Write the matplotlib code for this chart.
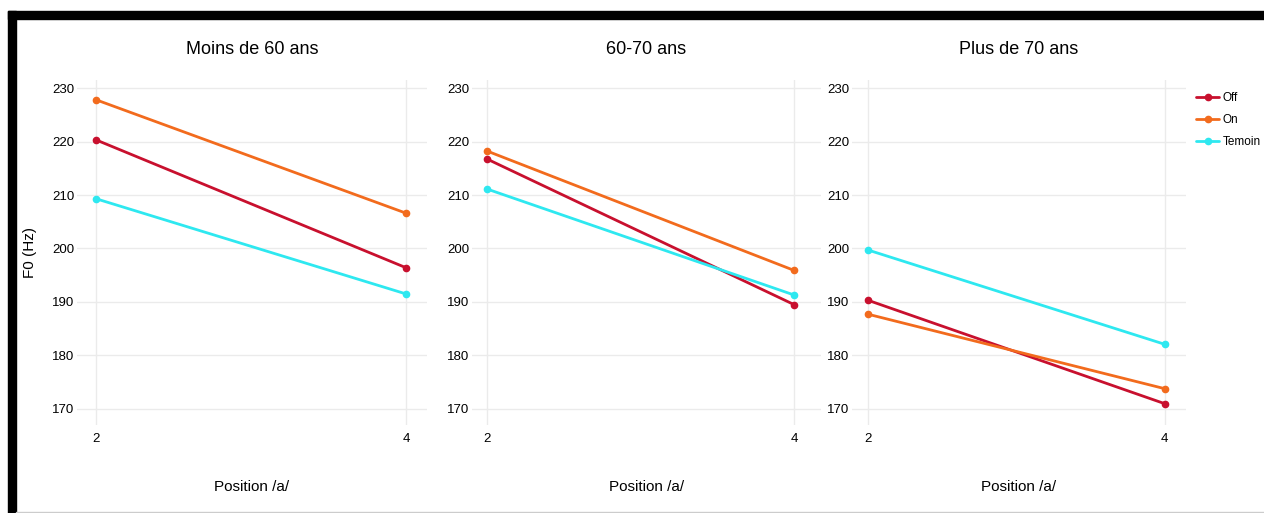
import numpy as np
import matplotlib as mpl
mpl.use('Agg')
import matplotlib.pyplot as plt
from matplotlib.patches import Rectangle

plt.rcParams['font.family'] = ['Liberation Sans', 'DejaVu Sans']

# données
positions = [2, 4]
groupes = ['Moins de 60 ans', '60-70 ans', 'Plus de 70 ans']
series = ['Off', 'On', 'Temoin']
couleurs = ['#c8102e', '#f26b1d', '#2ee8f0']
off_vals = [[220.3, 196.4], [216.7, 189.5], [190.3, 171.0]]
on_vals = [[227.8, 206.6], [218.2, 195.9], [187.7, 173.8]]
temoin_vals = [[209.3, 191.5], [211.1, 191.3], [199.7, 182.1]]
y_ticks = [170, 180, 190, 200, 210, 220, 230]

W, H = 1264, 513
fig = plt.figure(figsize=(W / 100, H / 100), dpi=100)

# cadre noir (capture d'écran)
fig.patches.append(Rectangle((8 / W, 0), 8 / W, 1 - 11 / H, transform=fig.transFigure,
                             color='black', zorder=10))
fig.patches.append(Rectangle((8 / W, 1 - 19 / H), 1, 8 / H, transform=fig.transFigure,
                             color='black', zorder=10))
fig.patches.append(Rectangle((16 / W, 0), 1, 1.5 / H, transform=fig.transFigure,
                             color='#cccccc', zorder=10))

# positions des panneaux en pixels (gauche, droite)
boxes = [(77, 427), (472, 821), (852, 1186)]
top, bottom = 80, 425
xlims = [(1.877, 4.135), (1.90, 4.175), (1.89, 4.145)]

all_vals = [off_vals, on_vals, temoin_vals]
axes = []
for i, (l, r) in enumerate(boxes):
    ax = fig.add_axes([l / W, 1 - bottom / H, (r - l) / W, (bottom - top) / H])
    axes.append(ax)
    for s, name in enumerate(series):
        ax.plot(positions, all_vals[s][i], color=couleurs[s], lw=2.0, marker='o',
                markersize=4.5, label=name, solid_capstyle='round')
    ax.set_xlim(*xlims[i])
    ax.set_ylim(167.0, 231.5)
    ax.set_xticks(positions)
    ax.set_yticks(y_ticks)
    ax.grid(True, color='#ebebeb', lw=1.0)
    ax.set_axisbelow(True)
    for sp in ax.spines.values():
        sp.set_visible(False)
    ax.tick_params(length=0, labelsize=9.5, colors='black')
    ax.tick_params(axis='x', pad=6)
    ax.tick_params(axis='y', pad=2)
    ax.set_title(groupes[i], fontsize=13, pad=19)
    ax.set_xlabel('Position /a/', fontsize=11, labelpad=25)

axes[0].set_ylabel('F0 (Hz)', fontsize=11, labelpad=11)

# légende à droite du dernier panneau
leg = fig.legend(*axes[2].get_legend_handles_labels(), loc='upper left',
                 bbox_to_anchor=(1194 / W, 1 - 90 / H), frameon=False,
                 fontsize=8.5, handlelength=1.9, handletextpad=0.3,
                 labelspacing=0.85, borderaxespad=0.0, borderpad=0.2)

plt.savefig('out.png', dpi=100)
